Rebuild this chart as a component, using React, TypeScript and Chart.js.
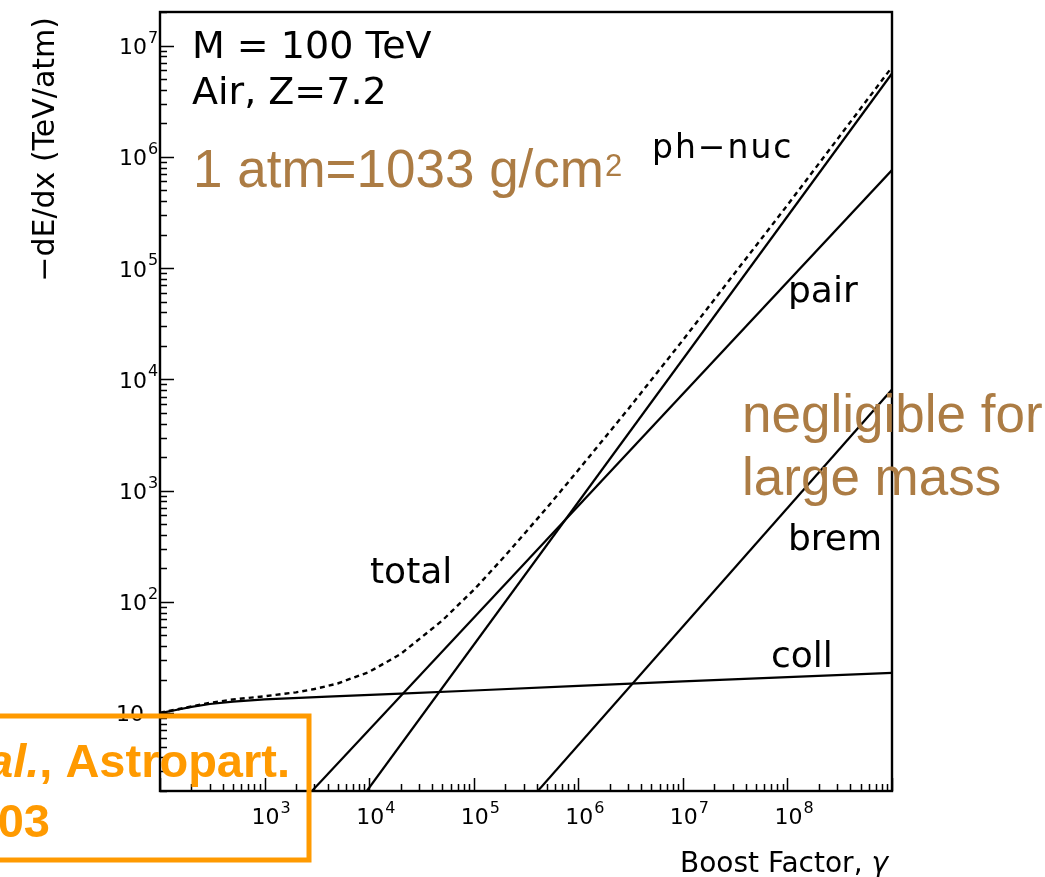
import { useEffect, useRef } from 'react';
import { Chart, registerables } from 'chart.js';

Chart.register(...registerables);

// ---- data ----
const gammaColl = [100, 150, 200, 300, 500, 1e3, 4e3, 2e4, 1e5, 1e6, 1e7, 1e8, 1e9];
const dedxColl = [10, 10.8, 11.4, 12.1, 12.7, 13.3, 14.1, 15, 16, 17.6, 19.3, 21.1, 23];

const gammaPair = [2840, 1e9];
const dedxPair = [2, 7.6e5];

const gammaPhNuc = [9500, 1e9];
const dedxPhNuc = [2, 5.6e6];

const gammaBrem = [4.1e5, 1e9];
const dedxBrem = [2, 8.1e3];

const gammaTotal = [100, 200, 300, 500, 1e3, 2e3, 3e3, 5e3, 1e4, 2e4, 5e4, 1e5, 2e5, 5e5, 1e6, 3e6, 1e7, 1e8, 1e9];
const dedxTotal = [10.1, 11.5, 12.4, 13.3, 14.2, 15.4, 16.5, 18.5, 23.5, 34, 68, 128, 260, 700, 1530, 5400, 22500, 3.68e5, 6.4e6];

const xTickValues = [1e3, 1e4, 1e5, 1e6, 1e7, 1e8];
const xTickExponents = ['3', '4', '5', '6', '7', '8'];
const yTickValues = [10, 1e2, 1e3, 1e4, 1e5, 1e6, 1e7];
const yTickExponents = ['', '2', '3', '4', '5', '6', '7'];

const xMin = 100;
const xMax = 1e9;
const yMin = 2;
const yMax = 2e7;

const toPoints = (xs: number[], ys: number[]) => xs.map((x, i) => ({ x, y: ys[i] }));

const ROOT_FONT = '"DejaVu Sans", sans-serif';
const HELV = '"Liberation Sans", Arial, sans-serif';
const BROWN = '#AC7C44';
const ORANGE = '#FF9A00';

const overlayPlugin = {
  id: 'overlay',
  afterDraw(chart: any) {
    const ctx: CanvasRenderingContext2D = chart.ctx;
    const { left, right, top, bottom } = chart.chartArea;
    const xs = chart.scales.x;
    const ys = chart.scales.y;
    ctx.save();

    // frame
    ctx.strokeStyle = '#000';
    ctx.lineWidth = 2.4;
    ctx.strokeRect(left, top, right - left, bottom - top);

    // ticks (inside)
    ctx.lineWidth = 1.5;
    ctx.beginPath();
    for (let e = 0; e <= 8; e++) {
      for (let m = 1; m <= 9; m++) {
        const v = m * Math.pow(10, e);
        if (v >= yMin && v <= yMax) {
          const py = Math.round(ys.getPixelForValue(v)) + 0.5;
          const len = m === 1 ? 14 : 7;
          ctx.moveTo(left, py);
          ctx.lineTo(left + len, py);
        }
      }
    }
    for (let e = 2; e <= 9; e++) {
      for (let m = 1; m <= 9; m++) {
        const v = m * Math.pow(10, e);
        if (v >= xMin && v <= xMax) {
          const px = Math.round(xs.getPixelForValue(v)) + 0.5;
          const len = m === 1 ? 13 : 7;
          ctx.moveTo(px, bottom);
          ctx.lineTo(px, bottom - len);
        }
      }
    }
    ctx.stroke();

    // tick labels
    ctx.fillStyle = '#000';
    ctx.textBaseline = 'alphabetic';
    xTickValues.forEach((v, i) => {
      const px = xs.getPixelForValue(v);
      ctx.font = `22px ${ROOT_FONT}`;
      ctx.textAlign = 'center';
      ctx.fillText('10', px + 1, 824);
      const w = ctx.measureText('10').width;
      ctx.font = `16px ${ROOT_FONT}`;
      ctx.textAlign = 'left';
      ctx.fillText(xTickExponents[i], px + 1 + w / 2 + 1, 813);
    });
    yTickValues.forEach((v, i) => {
      const py = ys.getPixelForValue(v);
      ctx.font = `22px ${ROOT_FONT}`;
      ctx.textAlign = 'right';
      if (yTickExponents[i] === '') {
        ctx.fillText('10', 144, py + 8);
      } else {
        ctx.fillText('10', 147, py + 8.5);
        ctx.font = `16px ${ROOT_FONT}`;
        ctx.textAlign = 'left';
        ctx.fillText(yTickExponents[i], 148, py - 3);
      }
    });

    // axis titles
    ctx.font = `28px ${ROOT_FONT}`;
    ctx.textAlign = 'left';
    const t1 = 'Boost Factor, ';
    const w1 = ctx.measureText(t1).width;
    ctx.font = `italic 28px ${ROOT_FONT}`;
    const w2 = ctx.measureText('γ').width;
    const sx = 888 - w1 - w2;
    ctx.font = `28px ${ROOT_FONT}`;
    ctx.fillText(t1, sx, 872);
    ctx.font = `italic 28px ${ROOT_FONT}`;
    ctx.fillText('γ', sx + w1, 872);

    ctx.save();
    ctx.translate(54, 17);
    ctx.rotate(-Math.PI / 2);
    ctx.font = `30px ${ROOT_FONT}`;
    ctx.textAlign = 'right';
    ctx.fillText('−dE/dx (TeV/atm)', 0, 0);
    ctx.restore();

    // annotations
    ctx.textAlign = 'left';
    ctx.font = `38px ${ROOT_FONT}`;
    ctx.fillText('M = 100 TeV', 192, 58);
    ctx.fillText('Air, Z=7.2', 192, 104);

    ctx.font = `33px ${ROOT_FONT}`;
    (ctx as any).letterSpacing = '2px';
    ctx.fillText('ph−nuc', 652, 158);
    (ctx as any).letterSpacing = '0px';

    ctx.font = `36px ${ROOT_FONT}`;
    ctx.fillText('pair', 788, 302);
    ctx.fillText('brem', 788, 550);
    ctx.fillText('coll', 771, 667);
    ctx.fillText('total', 370, 583);

    // brown notes
    ctx.fillStyle = BROWN;
    ctx.font = `53px ${HELV}`;
    const a1 = '1 atm=1033 g/cm';
    ctx.fillText(a1, 193, 187);
    const aw = ctx.measureText(a1).width;
    ctx.font = `31px ${HELV}`;
    ctx.fillText('2', 193 + aw + 1, 176);

    ctx.font = `53px ${HELV}`;
    ctx.fillText('negligible for', 742, 432);
    ctx.fillText('large mass', 742, 495);

    // orange reference box
    ctx.strokeStyle = ORANGE;
    ctx.lineWidth = 5;
    ctx.strokeRect(-20, 716, 329, 144);
    ctx.fillStyle = ORANGE;
    ctx.font = `bold 47px ${HELV}`;
    const r1 = ', Astropart.';
    const rw = ctx.measureText(r1).width;
    const rEnd = 290;
    ctx.fillText(r1, rEnd - rw, 777);
    ctx.font = `italic bold 47px ${HELV}`;
    const iw = ctx.measureText('al.').width;
    ctx.fillText('al.', rEnd - rw - iw, 777);
    ctx.font = `bold 47px ${HELV}`;
    ctx.textAlign = 'right';
    ctx.fillText('03', 50, 837);

    ctx.restore();
  },
};

export default function App() {
  const ref = useRef<HTMLCanvasElement>(null);
  useEffect(() => {
    document.body.style.margin = '0';
    const lineDs = (label: string, xsArr: number[], ysArr: number[], dashed = false) => ({
      label,
      data: toPoints(xsArr, ysArr),
      borderColor: '#000',
      backgroundColor: '#000',
      borderWidth: dashed ? 2.4 : 2.2,
      borderDash: dashed ? [5, 4] : [],
      pointRadius: 0,
      fill: false,
      tension: 0,
    });
    const chart = new Chart(ref.current!, {
      type: 'line',
      data: {
        datasets: [
          lineDs('coll', gammaColl, dedxColl),
          lineDs('pair', gammaPair, dedxPair),
          lineDs('ph-nuc', gammaPhNuc, dedxPhNuc),
          lineDs('brem', gammaBrem, dedxBrem),
          lineDs('total', gammaTotal, dedxTotal, true),
        ],
      },
      options: {
        responsive: false,
        maintainAspectRatio: false,
        devicePixelRatio: 1,
        animation: false,
        layout: { padding: { left: 0, right: 153, top: 12, bottom: 0 } },
        plugins: { legend: { display: false }, tooltip: { enabled: false } },
        scales: {
          x: {
            type: 'logarithmic',
            min: xMin,
            max: xMax,
            ticks: { display: false },
            grid: { display: false, drawTicks: false },
            border: { display: false },
            afterFit: (s: any) => {
              s.height = 86;
            },
          },
          y: {
            type: 'logarithmic',
            min: yMin,
            max: yMax,
            ticks: { display: false },
            grid: { display: false, drawTicks: false },
            border: { display: false },
            afterFit: (s: any) => {
              s.width = 160;
            },
          },
        },
      },
      plugins: [overlayPlugin],
    } as any);
    return () => chart.destroy();
  }, []);
  return (
    <div style={{ position: 'absolute', left: 0, top: 0, width: 1045, height: 877, background: '#fff', overflow: 'hidden' }}>
      <canvas ref={ref} width={1045} height={877} style={{ display: 'block', width: 1045, height: 877 }} />
    </div>
  );
}
